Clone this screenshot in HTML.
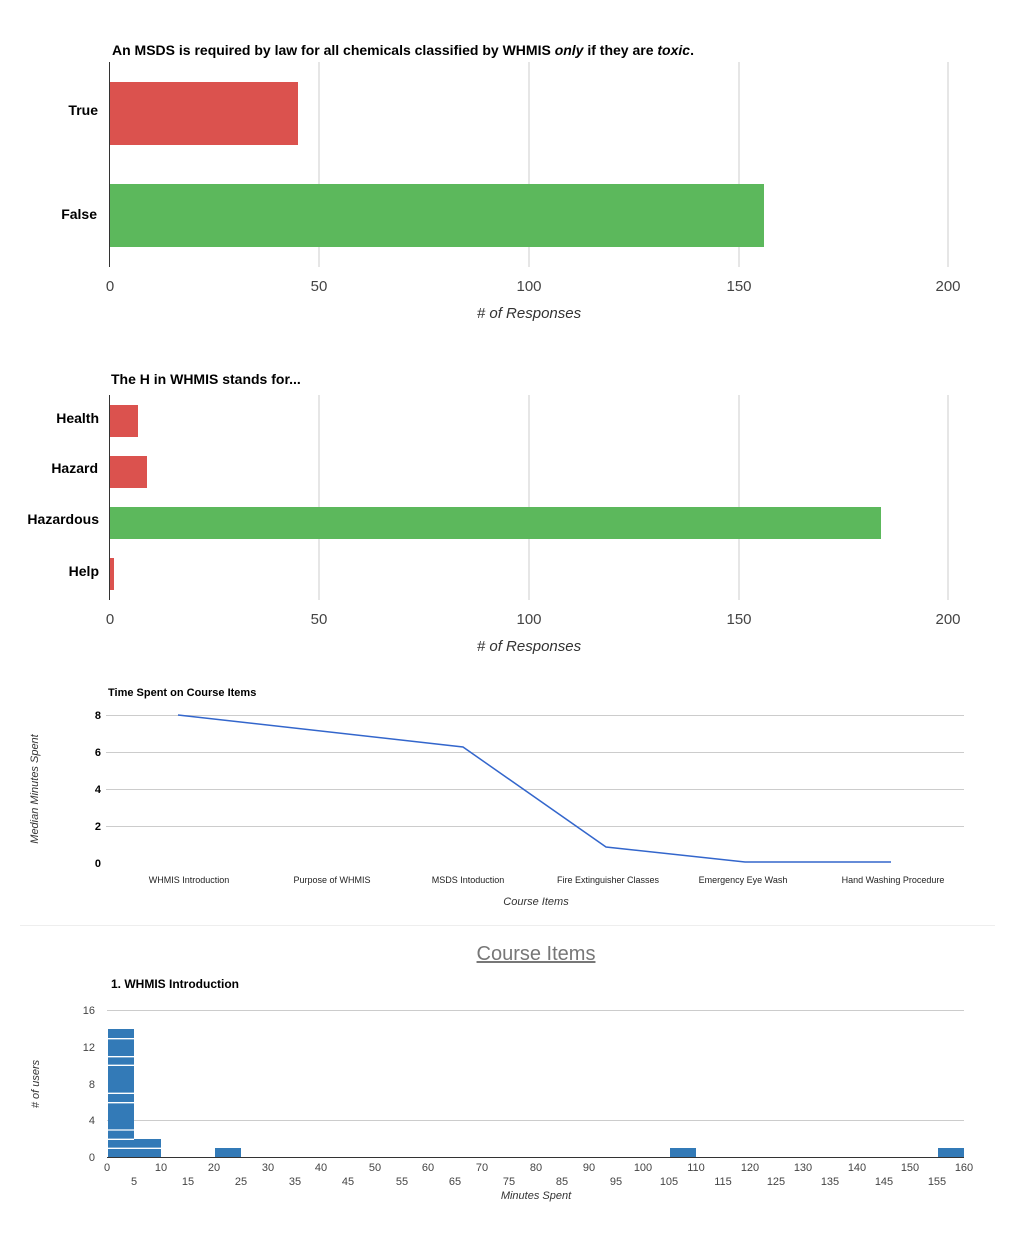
<!DOCTYPE html>
<html><head><meta charset="utf-8"><style>
body{margin:0;background:#fff;}
svg{display:block;font-family:"Liberation Sans",sans-serif;}
</style></head><body>
<svg width="1024" height="1252" viewBox="0 0 1024 1252">
<!-- Chart 1 -->
<text x="112" y="55" font-size="14" font-weight="bold" fill="#000">An MSDS is required by law for all chemicals classified by WHMIS <tspan font-style="italic">only</tspan> if they are <tspan font-style="italic">toxic</tspan>.</text>
<g stroke="#ccc" stroke-width="1">
<line x1="319" y1="62" x2="319" y2="267"/><line x1="529" y1="62" x2="529" y2="267"/><line x1="739" y1="62" x2="739" y2="267"/><line x1="948" y1="62" x2="948" y2="267"/>
</g>
<rect x="110" y="82" width="188" height="63" fill="#db524e"/>
<rect x="110" y="184" width="654" height="63" fill="#5cb85c"/>
<line x1="109.5" y1="62" x2="109.5" y2="267" stroke="#333"/>
<g font-size="14" font-weight="bold" text-anchor="end"><text x="98" y="115">True</text><text x="97" y="219">False</text></g>
<g font-size="15" fill="#444" text-anchor="middle"><text x="110" y="291">0</text><text x="319" y="291">50</text><text x="529" y="291">100</text><text x="739" y="291">150</text><text x="948" y="291">200</text></g>
<text x="529" y="318" font-size="15" font-style="italic" fill="#333" text-anchor="middle"># of Responses</text>
<!-- Chart 2 -->
<text x="111" y="384" font-size="14" font-weight="bold">The H in WHMIS stands for...</text>
<g stroke="#ccc"><line x1="319" y1="395" x2="319" y2="600"/><line x1="529" y1="395" x2="529" y2="600"/><line x1="739" y1="395" x2="739" y2="600"/><line x1="948" y1="395" x2="948" y2="600"/></g>
<rect x="110" y="405" width="28" height="32" fill="#db524e"/>
<rect x="110" y="456" width="37" height="32" fill="#db524e"/>
<rect x="110" y="507" width="771" height="32" fill="#5cb85c"/>
<rect x="110" y="558" width="4" height="32" fill="#db524e"/>
<line x1="109.5" y1="395" x2="109.5" y2="600" stroke="#333"/>
<g font-size="14" font-weight="bold" text-anchor="end"><text x="99" y="423">Health</text><text x="98" y="473">Hazard</text><text x="99" y="524">Hazardous</text><text x="99" y="576">Help</text></g>
<g font-size="15" fill="#444" text-anchor="middle"><text x="110" y="624">0</text><text x="319" y="624">50</text><text x="529" y="624">100</text><text x="739" y="624">150</text><text x="948" y="624">200</text></g>
<text x="529" y="651" font-size="15" font-style="italic" fill="#333" text-anchor="middle"># of Responses</text>
<!-- Line chart -->
<text x="108" y="696" font-size="11" font-weight="bold">Time Spent on Course Items</text>
<g stroke="#ccc"><line x1="106" y1="715.5" x2="964" y2="715.5"/><line x1="106" y1="752.5" x2="964" y2="752.5"/><line x1="106" y1="789.5" x2="964" y2="789.5"/><line x1="106" y1="826.5" x2="964" y2="826.5"/></g>
<g font-size="11" font-weight="bold" text-anchor="end"><text x="101" y="719">8</text><text x="101" y="756">6</text><text x="101" y="793">4</text><text x="101" y="830">2</text><text x="101" y="867">0</text></g>
<polyline points="178,715 463,747 606,847 745,862 891,862" fill="none" stroke="#3366cc" stroke-width="1.5"/>
<g font-size="9" fill="#222" text-anchor="middle"><text x="189" y="883">WHMIS Introduction</text><text x="332" y="883">Purpose of WHMIS</text><text x="468" y="883">MSDS Intoduction</text><text x="608" y="883">Fire Extinguisher Classes</text><text x="743" y="883">Emergency Eye Wash</text><text x="893" y="883">Hand Washing Procedure</text></g>
<text x="536" y="905" font-size="11" font-style="italic" fill="#333" text-anchor="middle">Course Items</text>
<text transform="translate(38,789) rotate(-90)" font-size="11" font-style="italic" fill="#333" text-anchor="middle">Median Minutes Spent</text>
<line x1="20" y1="925.5" x2="995" y2="925.5" stroke="#eee"/>
<!-- Histogram -->
<text x="536" y="960" font-size="20" fill="#777" text-anchor="middle" text-decoration="underline">Course Items</text>
<text x="111" y="988" font-size="12" font-weight="bold">1. WHMIS Introduction</text>
<g stroke="#ccc"><line x1="107" y1="1010.5" x2="964" y2="1010.5"/><line x1="107" y1="1120.5" x2="964" y2="1120.5"/></g>
<g font-size="11" fill="#444" text-anchor="end"><text x="95" y="1014">16</text><text x="95" y="1051">12</text><text x="95" y="1088">8</text><text x="95" y="1124">4</text><text x="95" y="1161">0</text></g>
<g fill="#337ab7">
<rect x="108" y="1029" width="26" height="128"/>
<rect x="108" y="1139" width="53" height="18"/>
<rect x="215" y="1148" width="26" height="9"/>
<rect x="670" y="1148" width="26" height="9"/>
<rect x="938" y="1148" width="26" height="9"/>
</g>
<g stroke="#fff" stroke-width="1.3"><line x1="108" y1="1038.7" x2="134" y2="1038.7"/><line x1="108" y1="1056.7" x2="134" y2="1056.7"/><line x1="108" y1="1065.3" x2="134" y2="1065.3"/><line x1="108" y1="1093.3" x2="134" y2="1093.3"/><line x1="108" y1="1102.7" x2="134" y2="1102.7"/><line x1="108" y1="1130" x2="134" y2="1130"/><line x1="108" y1="1139.3" x2="134" y2="1139.3"/><line x1="108" y1="1148.3" x2="161" y2="1148.3"/></g>
<line x1="107" y1="1157.5" x2="964" y2="1157.5" stroke="#333"/>
<g font-size="11" fill="#444" text-anchor="middle">
<text x="107" y="1171">0</text><text x="161" y="1171">10</text><text x="214" y="1171">20</text><text x="268" y="1171">30</text><text x="321" y="1171">40</text><text x="375" y="1171">50</text><text x="428" y="1171">60</text><text x="482" y="1171">70</text><text x="536" y="1171">80</text><text x="589" y="1171">90</text><text x="643" y="1171">100</text><text x="696" y="1171">110</text><text x="750" y="1171">120</text><text x="803" y="1171">130</text><text x="857" y="1171">140</text><text x="910" y="1171">150</text><text x="964" y="1171">160</text>
<text x="134" y="1185">5</text><text x="188" y="1185">15</text><text x="241" y="1185">25</text><text x="295" y="1185">35</text><text x="348" y="1185">45</text><text x="402" y="1185">55</text><text x="455" y="1185">65</text><text x="509" y="1185">75</text><text x="562" y="1185">85</text><text x="616" y="1185">95</text><text x="669" y="1185">105</text><text x="723" y="1185">115</text><text x="776" y="1185">125</text><text x="830" y="1185">135</text><text x="884" y="1185">145</text><text x="937" y="1185">155</text>
</g>
<text x="536" y="1199" font-size="11" font-style="italic" fill="#333" text-anchor="middle">Minutes Spent</text>
<text transform="translate(39,1084) rotate(-90)" font-size="11" font-style="italic" fill="#333" text-anchor="middle"># of users</text>
</svg>
</body></html>
